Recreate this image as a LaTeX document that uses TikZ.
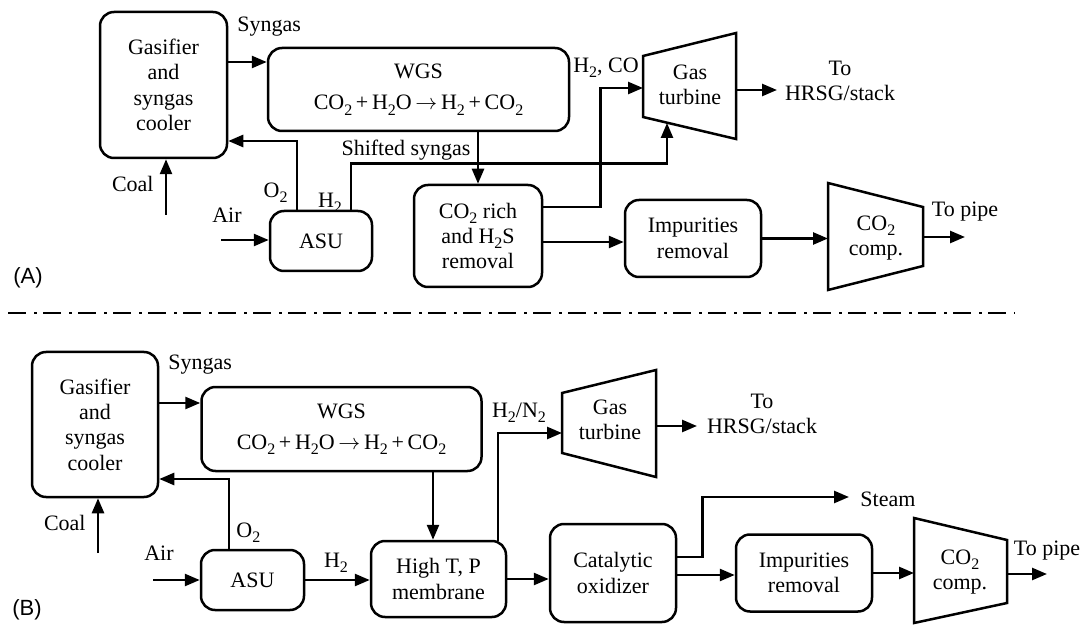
\documentclass[tikz,border=0pt]{standalone}
\usepackage{fontspec}
\setmainfont{Liberation Serif}
\newfontfamily\labelsans{Liberation Sans}
\usetikzlibrary{arrows.meta,calc}
% lowered chemical subscript
\newcommand{\dn}[1]{\raisebox{-0.5ex}{\fontsize{8}{8}\selectfont #1}}
% reaction arrow
\newcommand{\yields}{\(\rightarrow\)}

\begin{document}
\begin{tikzpicture}[x=0.5pt,y=-0.5pt,
  every node/.style={font=\fontsize{11}{12.7}\selectfont, inner sep=0pt},
  unit/.style={draw, line width=1.25pt, rounded corners=7pt, align=center},
  flow/.style={line width=1.25pt, -{Triangle[length=7.5pt,width=6pt]}},
  pipe/.style={line width=1.25pt, line join=miter},
  txt/.style={align=center},
  tag/.style={font=\labelsans\fontsize{11}{13}\selectfont}]
\useasboundingbox (0,0) rectangle (1091,625);

% ---------------- (A) shift + CO2 removal ----------------
\node[unit, minimum width=63.5pt, minimum height=73pt] (gasA) at (163.5,85) {Gasifier\\and\\syngas\\cooler};
\node[unit, minimum width=150.5pt, minimum height=41.5pt] (wgsA) at (418.5,89.5)
  {WGS\\[3pt]CO\dn{2}\,+\,H\dn{2}O\,\yields\,H\dn{2}\,+\,CO\dn{2}};
\node[unit, minimum width=51pt, minimum height=30pt] (asuA) at (321,241) {ASU};
\node[unit, minimum width=64pt, minimum height=51pt] (remA) at (478,236) {CO\dn{2} rich\\and H\dn{2}S\\removal};
\node[unit, minimum width=68pt, minimum height=38.5pt] (impA) at (693,238.5) {Impurities\\removal};

% gas turbine
\draw[pipe] (643,56) -- (736,33) -- (736,139) -- (643,117) -- cycle;
\node[txt] (gtA) at (690,85) {Gas\\turbine};
\coordinate (gtA-in) at (643,88);
\coordinate (gtA-bot) at (667,123);
\coordinate (gtA-out) at (736,90);
\coordinate (hrsgA-end) at (777,90);

% CO2 compressor
\draw[pipe] (828,183) -- (923,207) -- (923,266) -- (828,290) -- cycle;
\node[txt] (compA) at (876,238) {CO\dn{2}\\comp.};
\coordinate (compA-in) at (828,238.5);
\coordinate (compA-out) at (923,237);
\coordinate (pipeA-end) at (965,237);

\coordinate (coalA) at (166,215);
\coordinate (airA) at (221,240);

\draw[flow] ($(gasA.east)+(0,-23)$) coordinate (sA) -- (sA -| wgsA.west);
\draw[flow] ($(asuA.north)+(-24,0)$) |- ($(gasA.east)+(0,56)$);
\draw[flow] ($(asuA.north)+(30,0)$) -- ++(0,-46) -| (gtA-bot);
\draw[flow] (wgsA.south -| remA.north) -- (remA.north);
\draw[flow] ($(remA.east)+(0,-29)$) -- ++(57,0) |- (gtA-in);
\draw[flow] ($(remA.east)+(0,6)$) coordinate (tA) -- (tA -| impA.west);
\draw[flow] (impA.east) -- (compA-in);
\draw[flow] (compA-out) -- (pipeA-end);
\draw[flow] (gtA-out) -- (hrsgA-end);
\draw[flow] (coalA) -- (coalA |- gasA.south);
\draw[flow] (airA) -- (airA -| asuA.west);

\node[anchor=west] (synA) at (237,27) {Syngas};
\node[anchor=east] (o2A) at (288,193) {O\dn{2}};
\node (h2A) at (330,203) {H\dn{2}};
\node (shiftA) at (406,150) {Shifted syngas};
\node (h2coA) at (606,68) {H\dn{2}, CO};
\node[txt] (hrsgA) at (840,81) {To\\HRSG/stack};
\node (pipeA) at (965,212) {To pipe};
\node[anchor=east] (coalAl) at (154,184) {Coal};
\node (airAl) at (227,215) {Air};
\node[tag] (tagA) at (28,278) {(A)};

% separator
\draw[line width=1pt, dash pattern=on 9pt off 4pt on 1.5pt off 3pt] (8,313) -- (1015,313);

% ---------------- (B) membrane + catalytic oxidizer ----------------
\node[unit, minimum width=63pt, minimum height=72.5pt] (gasB) at (95,424.5) {Gasifier\\and\\syngas\\cooler};
\node[unit, minimum width=140pt, minimum height=42pt] (wgsB) at (341.5,429)
  {WGS\\[3pt]CO\dn{2}\,+\,H\dn{2}O\,\yields\,H\dn{2}\,+\,CO\dn{2}};
\node[unit, minimum width=51.5pt, minimum height=30pt] (asuB) at (252.5,580) {ASU};
\node[unit, minimum width=67.5pt, minimum height=38pt] (memB) at (438.5,579) {High T, P\\membrane};
\node[unit, minimum width=63pt, minimum height=49pt] (catB) at (613,573) {Catalytic\\oxidizer};
\node[unit, minimum width=68pt, minimum height=38.5pt] (impB) at (804,573) {Impurities\\removal};

\draw[pipe] (562,393) -- (656,370) -- (656,477) -- (562,453) -- cycle;
\node[txt] (gtB) at (610,420) {Gas\\turbine};
\coordinate (gtB-in) at (562,433);
\coordinate (gtB-out) at (656,426);
\coordinate (hrsgB-end) at (697,426);

\draw[pipe] (914,518) -- (1007,540) -- (1007,603) -- (914,623) -- cycle;
\node[txt] (compB) at (960,572) {CO\dn{2}\\comp.};
\coordinate (compB-in) at (914,573);
\coordinate (compB-out) at (1007,574);
\coordinate (pipeB-end) at (1047,574);

\coordinate (coalB) at (98,553);
\coordinate (airB) at (153,580);
\coordinate (memB-in) at ($(memB.north)+(-5.5,0)$);
\coordinate (memB-top) at ($(memB.north)+(59.5,1.5)$);
\coordinate (steamB-end) at (849,497);

\draw[flow] ($(gasB.east)+(0,-21.5)$) coordinate (sB) -- (sB -| wgsB.west);
\draw[flow] ($(asuB.north)+(-23.5,0)$) |- ($(gasB.east)+(0,54.5)$);
\draw[flow] (coalB) -- (coalB |- gasB.south);
\draw[flow] (airB) -- (airB -| asuB.west);
\draw[flow] (asuB.east) -- (asuB.east -| memB.west);
\draw[flow] (wgsB.south -| memB-in) -- (memB-in);
\draw[flow] (memB-top) |- (gtB-in);
\draw[flow] (gtB-out) -- (hrsgB-end);
\draw[flow] (memB.east) -- (memB.east -| catB.west);
\draw[flow] ($(catB.east)+(0,-16)$) -- ++(25,0) |- (steamB-end);
\draw[flow] ($(catB.east)+(0,2)$) coordinate (uB) -- (uB -| impB.west);
\draw[flow] (impB.east) -- (compB-in);
\draw[flow] (compB-out) -- (pipeB-end);

\node[anchor=west] (synB) at (168,365) {Syngas};
\node[anchor=west] (o2B) at (236,533) {O\dn{2}};
\node[anchor=east] (coalBl) at (86,523) {Coal};
\node (airBl) at (159,553) {Air};
\node (h2B) at (336,563) {H\dn{2}};
\node (h2n2B) at (519,413) {H\dn{2}/N\dn{2}};
\node[txt] (hrsgB) at (762,414) {To\\HRSG/stack};
\node[anchor=west] (steamB) at (860,499) {Steam};
\node (pipeB) at (1047,551) {To pipe};
\node[tag] (tagB) at (27,610) {(B)};
\end{tikzpicture}
\end{document}
